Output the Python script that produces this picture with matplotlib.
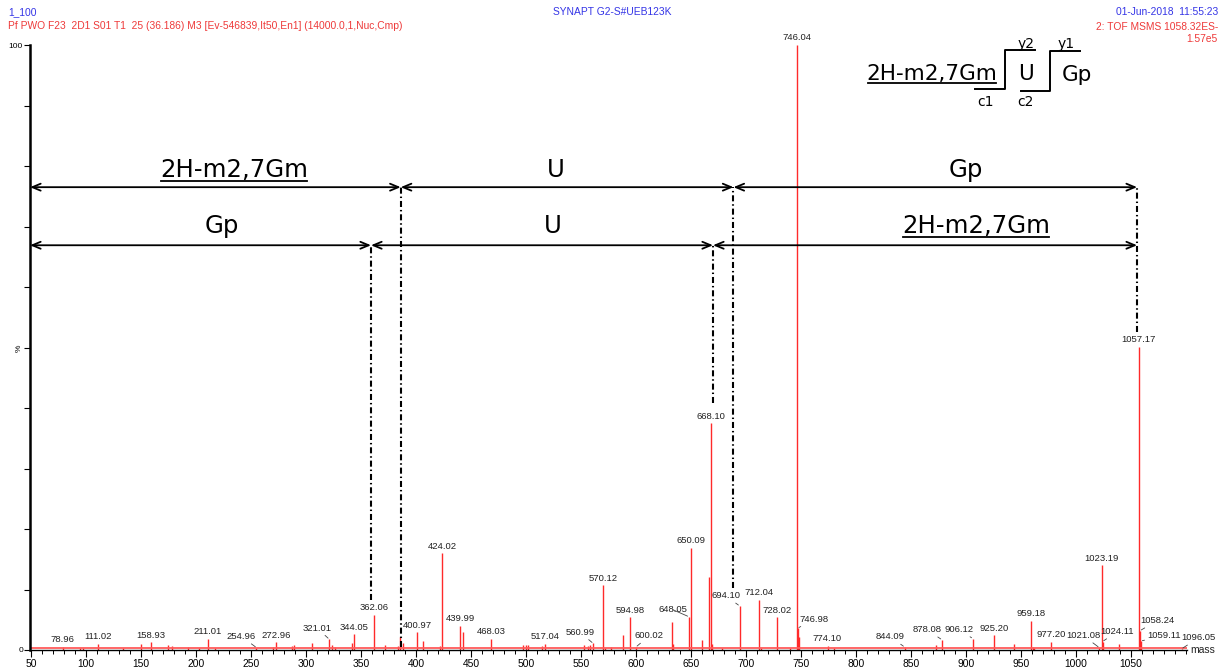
import numpy as np
import matplotlib.pyplot as plt
import matplotlib.transforms as mtransforms
from matplotlib.lines import Line2D

# labelled peaks: m/z and relative intensity (%)
peak_mz = [78.96, 111.02, 158.93, 211.01, 254.96, 272.96, 321.01, 344.05, 362.06,
           400.97, 424.02, 439.99, 468.03, 517.04, 560.99, 570.12, 594.98, 600.02,
           648.05, 650.09, 668.10, 694.10, 712.04, 728.02, 746.04, 746.98, 774.10,
           844.09, 878.08, 906.12, 925.20, 959.18, 977.20, 1021.08, 1023.19, 1024.11,
           1057.17, 1058.24, 1059.11, 1096.05]
peak_int = [0.55, 1.0, 1.3, 1.9, 0.4, 1.3, 1.8, 2.6, 5.8,
            2.9, 16.0, 4.0, 1.9, 1.0, 1.1, 10.7, 5.4, 0.5,
            5.5, 16.9, 37.5, 7.3, 8.3, 5.4, 100.0, 3.6, 0.7,
            0.5, 1.7, 1.9, 2.4, 4.8, 1.4, 0.4, 14.0, 1.4,
            50.1, 3.2, 1.5, 0.2]

# smaller unlabelled peaks
minor_mz = [94.5, 97.6, 133.3, 149.7, 174.8, 177.9, 193.0, 202.7, 217.3, 270.3,
            287.0, 289.0, 305.2, 323.4, 326.0, 342.1, 371.8, 383.3, 385.5, 388.5,
            406.0, 422.0, 442.4, 497.0, 500.0, 502.0, 515.0, 552.7, 556.6, 558.5,
            571.8, 577.5, 587.9, 632.4, 633.5, 660.3, 666.1, 669.5, 678.5, 713.3,
            740.0, 748.5, 780.0, 872.7, 943.4, 960.5, 962.0, 1039.4]
minor_int = [0.4, 0.4, 0.3, 1.0, 0.9, 0.6, 0.5, 0.3, 0.4, 0.5,
             0.6, 0.8, 1.2, 0.8, 0.5, 1.1, 0.8, 0.6, 2.1, 1.2,
             1.5, 0.6, 3.0, 0.8, 0.8, 0.8, 0.7, 0.9, 0.6, 0.9,
             0.3, 0.5, 2.5, 4.7, 1.0, 1.7, 12.0, 1.0, 0.4, 0.4,
             0.3, 2.2, 0.3, 0.8, 1.0, 0.5, 0.3, 1.0]

# fragment ladders (m/z of the cleavage marks)
upper_cuts = [386.1, 688.6]
lower_cuts = [359.1, 670.0]
ladder_end = 1055.5
upper_names = ['2H-m2,7Gm', 'U', 'Gp']
lower_names = ['Gp', 'U', '2H-m2,7Gm']

W, H = 1225, 669
RED = '#ff2a2a'
BLUE = '#3535e6'
TRED = '#ee3a3a'

fig = plt.figure(figsize=(W / 100, H / 100), dpi=100)
ax = fig.add_axes([30 / W, (H - 650) / H, (1187 - 30) / W, (650 - 45) / H])
pix = mtransforms.Affine2D().scale(1 / W, -1 / H).translate(0, 1) + fig.transFigure

xmin, xmax = 49.1, 1100.9
ax.set_xlim(xmin, xmax)
ax.set_ylim(0, 100)

# spectrum
ax.vlines(minor_mz, 0, minor_int, color=RED, lw=1)
ax.vlines(peak_mz, 0, peak_int, color=RED, lw=1)
ax.axhline(0.3, color='#ff5a5a', lw=1.3)

for s in ['top', 'right']:
    ax.spines[s].set_visible(False)
ax.spines['left'].set_linewidth(1.8)
ax.spines['bottom'].set_linewidth(1.0)

ax.set_xticks(np.arange(50, 1051, 50))
ax.set_xticks(np.arange(50, 1101, 10), minor=True)
ax.tick_params(axis='x', which='major', length=5, width=0.8, pad=1.5, labelsize=7.4)
ax.tick_params(axis='x', which='minor', length=3, width=0.7)
ax.set_yticks(np.arange(0, 101, 10))
ylabels = ['0', '', '', '', '', '%', '', '', '', '', '100']
ax.set_yticklabels(ylabels)
ax.tick_params(axis='y', length=4, width=0.8, pad=1, labelsize=6)
ax.get_yticklabels()[5].set_rotation(90)
for lab in ax.get_xticklabels() + ax.get_yticklabels():
    lab.set_family('Liberation Sans')

ax.text(1.003, 0, 'mass', transform=ax.transAxes, ha='left', va='center',
        fontsize=7.5, family='Liberation Sans', color='#222222')

# peak labels: offset in pixels for the ones with leader lines
leader = {254.96: (-15, 11), 321.01: (-12, 11), 560.99: (-13, 11), 600.02: (13, 11),
          648.05: (-16, 7), 694.10: (-14, 10), 746.98: (16, 9), 844.09: (-14, 10),
          878.08: (-15, 10), 906.12: (-14, 9), 1021.08: (-16, 12),
          1024.11: (15, 10), 1058.24: (17, 10), 1059.11: (23, 5), 1096.05: (17, 11)}
for mz, it in zip(peak_mz, peak_int):
    txt = '%.2f' % mz
    if mz in leader:
        ax.annotate(txt, xy=(mz, it), xytext=leader[mz], textcoords='offset pixels',
                    ha='center', va='center', fontsize=6.8, family='Liberation Sans',
                    color='#222222', annotation_clip=False,
                    arrowprops=dict(arrowstyle='-', color='#444444', lw=0.6,
                                    shrinkA=0, shrinkB=1))
    else:
        ax.annotate(txt, xy=(mz, it), xytext=(0, 7), textcoords='offset pixels',
                    ha='center', va='center', fontsize=6.8, family='Liberation Sans',
                    color='#222222', annotation_clip=False)

# fragment ladders
dashdot = (0, (2.9, 1.4, 0.7, 1.4))
upper_y, lower_y = 76.5, 66.9
arrow = dict(arrowstyle='<->,head_length=0.6,head_width=0.25', color='black',
             lw=1.3, shrinkA=0, shrinkB=0)


def ladder(cuts, y, names, label_x, base_y):
    bounds = [xmin] + cuts + [ladder_end]
    for a, b in zip(bounds[:-1], bounds[1:]):
        ax.annotate('', xy=(a, y), xytext=(b, y), arrowprops=arrow, annotation_clip=False)
    texts = []
    for name, lx in zip(names, label_x):
        t = ax.text(lx, base_y, name, ha='center', va='baseline', fontsize=17.6,
                    family='DejaVu Sans', color='black')
        texts.append(t)
    return texts


upper_texts = ladder(upper_cuts, upper_y, upper_names, [234.5, 527.3, 900.0], 78.2)
lower_texts = ladder(lower_cuts, lower_y, lower_names, [223.6, 524.5, 909.0], 68.9)

ax.vlines(lower_cuts[0], 8.3, lower_y, color='black', lw=1.5, linestyles=[dashdot])
ax.vlines(upper_cuts[0], 0.5, upper_y, color='black', lw=1.5, linestyles=[dashdot])
ax.vlines(lower_cuts[1], 40.8, lower_y, color='black', lw=1.5, linestyles=[dashdot])
ax.vlines(upper_cuts[1], 10.3, upper_y, color='black', lw=1.5, linestyles=[dashdot])
ax.vlines(ladder_end, 52.6, upper_y, color='black', lw=1.5, linestyles=[dashdot])

# header texts
hdr = dict(family='Liberation Sans', fontsize=7.4, transform=pix)
fig.text(8, 12, '1_100', color=BLUE, ha='left', va='center', **hdr)
fig.text(8, 26, 'Pf PWO F23  2D1 S01 T1  25 (36.186) M3 [Ev-546839,It50,En1] (14000.0,1,Nuc,Cmp)',
         color=TRED, ha='left', va='center', **hdr)
fig.text(612, 12, 'SYNAPT G2-S#UEB123K', color=BLUE, ha='center', va='center', **hdr)
fig.text(1218, 12, '01-Jun-2018  11:55:23', color=BLUE, ha='right', va='center', **hdr)
fig.text(1218, 27, '2: TOF MSMS 1058.32ES-', color=TRED, ha='right', va='center', **hdr)
fig.text(1218, 39, '1.57e5', color=TRED, ha='right', va='center', **hdr)

# sequence inset
ins = dict(family='DejaVu Sans', color='black', transform=pix)
inset_name = fig.text(932, 80, '2H-m2,7Gm', ha='center', va='baseline', fontsize=15.5, **ins)
fig.text(1026, 80, 'U', ha='center', va='baseline', fontsize=15.5, **ins)
fig.text(1077, 81, 'Gp', ha='center', va='baseline', fontsize=15.5, **ins)
fig.text(1026, 44, 'y2', ha='center', va='center', fontsize=10, **ins)
fig.text(1066, 44, 'y1', ha='center', va='center', fontsize=10, **ins)
fig.text(985, 102, 'c1', ha='center', va='center', fontsize=10, **ins)
fig.text(1025, 102, 'c2', ha='center', va='center', fontsize=10, **ins)
fig.add_artist(Line2D([975, 1005, 1005, 1035], [89, 89, 50, 50], color='black', lw=1.4, transform=pix))
fig.add_artist(Line2D([1021, 1050, 1050, 1080], [90.5, 90.5, 51, 51], color='black', lw=1.4, transform=pix))

# underlines
fig.canvas.draw()
renderer = fig.canvas.get_renderer()
for t, gap in [(upper_texts[0], 4), (lower_texts[2], 4), (inset_name, 3)]:
    bb = t.get_window_extent(renderer)
    base = t.get_transform().transform(t.get_position())[1]
    fig.add_artist(Line2D([bb.x0 + 1, bb.x1 - 1], [base - gap, base - gap], color='black',
                          lw=1.3, transform=mtransforms.IdentityTransform()))

fig.savefig('out.png', dpi=100)
